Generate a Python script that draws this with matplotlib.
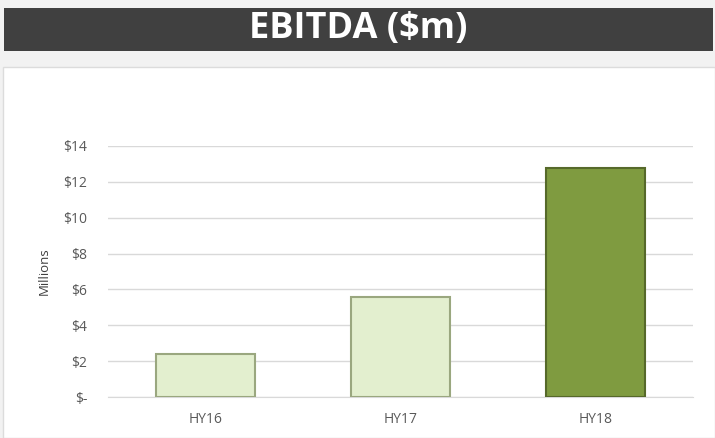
import matplotlib.pyplot as plt
from matplotlib.patches import Rectangle
from matplotlib.ticker import FuncFormatter

# Data
categories = ["HY16", "HY17", "HY18"]
ebitda = [2.4, 5.6, 12.8]
y_ticks = [0, 2, 4, 6, 8, 10, 12, 14]

W, H = 715, 438
fig = plt.figure(figsize=(W / 100, H / 100), dpi=100)
fig.patch.set_facecolor("#f2f2f2")

# title bar and white panel (figure coordinates)
fig.patches.append(Rectangle((4 / W, 1 - 51 / H), 709 / W, 43 / H,
                             transform=fig.transFigure, facecolor="#404040",
                             edgecolor="none", zorder=-1))
fig.patches.append(Rectangle((3 / W, 0), 712 / W, 1 - 67 / H,
                             transform=fig.transFigure, facecolor="white",
                             edgecolor="#dcdcdc", linewidth=1, zorder=-1))
fig.text(358 / W, 1 - 29 / H, "EBITDA ($m)", color="white", fontsize=26,
         fontweight="bold", family="Open Sans", ha="center", va="center")

ax = fig.add_axes([108 / W, 41 / H, 585 / W, 251 / H])
ax.set_zorder(2)
ax.set_facecolor("none")

x = range(len(categories))
faces = ["#e3efcf", "#e3efcf", "#7f9b40"]
edges = ["#9aa77f", "#9aa77f", "#56692a"]
ax.bar(x, ebitda, width=0.51, color=faces, edgecolor=edges, linewidth=1.5, zorder=3)

ax.set_xlim(-0.5, 2.5)
ax.set_ylim(0, 14)
ax.set_yticks(y_ticks)
ax.yaxis.set_major_formatter(FuncFormatter(lambda v, p: "$-" if v == 0 else "${:.0f}".format(v)))
ax.set_xticks(list(x))
ax.set_xticklabels(categories)
ax.grid(axis="y", color="#d9d9d9", linewidth=1, zorder=0)
for s in ["top", "right", "left"]:
    ax.spines[s].set_visible(False)
ax.spines["bottom"].set_color("#d9d9d9")
ax.tick_params(length=0, colors="#595959", labelsize=10)
ax.tick_params(axis="y", pad=15)
ax.tick_params(axis="x", pad=11)
for lbl in ax.get_xticklabels() + ax.get_yticklabels():
    lbl.set_family("Open Sans")
ax.set_ylabel("Millions", color="#404040", fontsize=9.5, family="Open Sans", labelpad=9)

fig.savefig("out.png", dpi=100, facecolor=fig.get_facecolor())
